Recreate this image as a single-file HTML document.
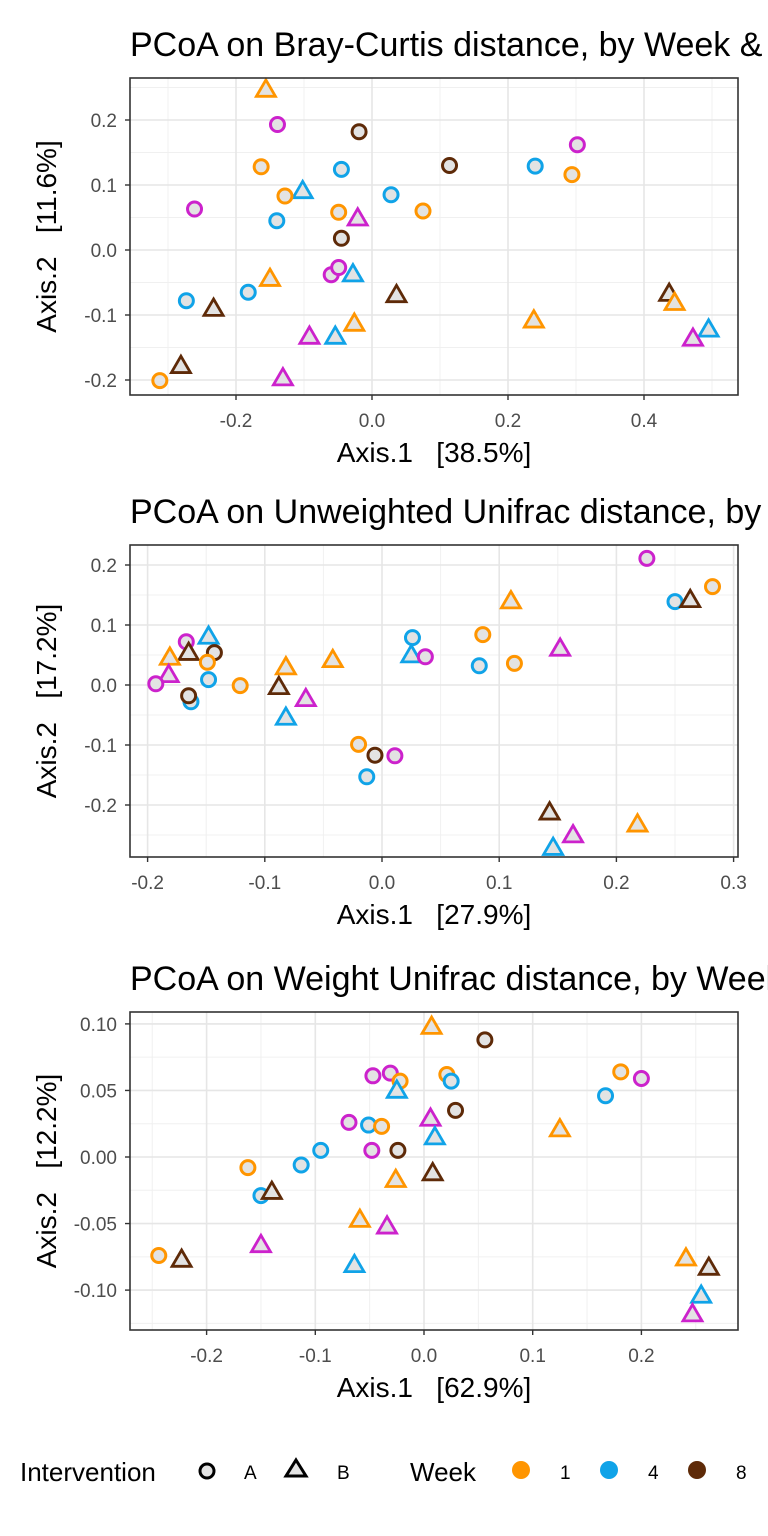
<!DOCTYPE html>
<html><head><meta charset="utf-8"><style>
html,body{margin:0;padding:0;background:#fff;}
svg{display:block;font-family:"Liberation Sans",Arial,sans-serif;}
text{white-space:pre;}
</style></head><body>
<svg id="chart" width="768" height="1536" viewBox="0 0 768 1536"></svg>
<script>
// Panel 1: Bray-Curtis
const p1Groups = ["B","A","A","A","A","A","A","A","A","B","A","A","A","A","A","B","A","A","B","A","A","B","B","A","A","B","B","B","B","B","B","B","B","B","B","B","A"];
const p1Weeks  = ["1","0","8","0","1","4","8","4","1","4","1","4","0","1","1","0","4","8","1","0","0","4","8","4","4","8","1","0","4","1","8","1","4","0","8","0","1"];
const p1X = [-0.156,-0.139,-0.019,0.302,-0.163,-0.045,0.114,0.240,0.294,-0.102,-0.128,0.028,-0.261,-0.049,0.075,-0.021,-0.140,-0.045,-0.150,-0.060,-0.049,-0.028,0.036,-0.182,-0.273,-0.233,-0.026,-0.092,-0.054,0.238,0.437,0.445,0.495,0.472,-0.281,-0.131,-0.312];
const p1Y = [0.247,0.193,0.182,0.162,0.128,0.124,0.130,0.129,0.116,0.091,0.083,0.085,0.063,0.058,0.060,0.049,0.045,0.018,-0.044,-0.038,-0.027,-0.037,-0.069,-0.065,-0.078,-0.090,-0.113,-0.133,-0.133,-0.108,-0.067,-0.081,-0.122,-0.136,-0.178,-0.197,-0.201];
// Panel 2: Unweighted Unifrac
const p2Groups = ["A","A","A","B","B","A","B","A","A","A","B","A","B","B","B","B","B","A","B","A","B","A","B","A","B","A","A","A","A","A","A","A","A","B","B","B","B"];
const p2Weeks  = ["0","1","4","8","1","1","0","4","1","4","4","0","1","1","8","0","4","1","4","0","8","8","1","1","0","0","4","4","8","1","8","0","4","8","0","4","1"];
const p2X = [0.226,0.282,0.250,0.263,0.110,0.086,0.152,0.083,0.113,0.026,0.025,0.037,-0.042,-0.082,-0.088,-0.065,-0.082,-0.121,-0.148,-0.167,-0.165,-0.143,-0.181,-0.149,-0.182,-0.193,-0.148,-0.163,-0.165,-0.020,-0.006,0.011,-0.013,0.143,0.163,0.146,0.218];
const p2Y = [0.211,0.164,0.139,0.142,0.140,0.084,0.061,0.032,0.036,0.079,0.050,0.047,0.042,0.030,-0.003,-0.023,-0.054,-0.001,0.081,0.072,0.054,0.054,0.046,0.038,0.017,0.002,0.009,-0.028,-0.018,-0.099,-0.117,-0.118,-0.153,-0.212,-0.250,-0.271,-0.232];
// Panel 3: Weighted Unifrac
const p3Groups = ["B","A","A","A","A","B","A","A","A","A","A","A","B","B","B","A","A","A","A","A","A","A","A","B","B","A","B","B","B","B","B","A","B","B","B","B","B"];
const p3Weeks  = ["1","8","0","0","1","4","1","4","1","0","4","8","0","4","1","0","4","1","4","0","8","4","1","8","1","4","8","1","0","0","4","1","8","1","8","4","0"];
const p3X = [0.007,0.056,-0.047,-0.031,-0.022,-0.025,0.021,0.025,0.181,0.200,0.167,0.029,0.006,0.010,0.125,-0.069,-0.051,-0.039,-0.095,-0.048,-0.024,-0.113,-0.162,0.008,-0.026,-0.150,-0.140,-0.059,-0.034,-0.150,-0.064,-0.244,-0.223,0.241,0.262,0.255,0.247];
const p3Y = [0.098,0.088,0.061,0.063,0.057,0.050,0.062,0.057,0.064,0.059,0.046,0.035,0.029,0.015,0.021,0.026,0.024,0.023,0.005,0.005,0.005,-0.006,-0.008,-0.012,-0.017,-0.029,-0.026,-0.047,-0.052,-0.066,-0.081,-0.074,-0.077,-0.076,-0.083,-0.104,-0.118];

const p1XTicks = [-0.2,0.0,0.2,0.4], p1XLabels = ["-0.2","0.0","0.2","0.4"];
const p1YTicks = [-0.2,-0.1,0.0,0.1,0.2], p1YLabels = ["-0.2","-0.1","0.0","0.1","0.2"];
const p2XTicks = [-0.2,-0.1,0.0,0.1,0.2,0.3], p2XLabels = ["-0.2","-0.1","0.0","0.1","0.2","0.3"];
const p2YTicks = [-0.2,-0.1,0.0,0.1,0.2], p2YLabels = ["-0.2","-0.1","0.0","0.1","0.2"];
const p3XTicks = [-0.2,-0.1,0.0,0.1,0.2], p3XLabels = ["-0.2","-0.1","0.0","0.1","0.2"];
const p3YTicks = [-0.10,-0.05,0.00,0.05,0.10], p3YLabels = ["-0.10","-0.05","0.00","0.05","0.10"];

const weekColors = {"0":"#CC22CC","1":"#FF9500","4":"#10A3E8","8":"#5E2A08"};
const NS = "http://www.w3.org/2000/svg";
const svg = document.getElementById('chart');
function mk(tag, attrs, parent){const e=document.createElementNS(NS,tag);for(const k in attrs)e.setAttribute(k,attrs[k]);(parent||svg).appendChild(e);return e;}

function panel(cfg){
  const g = mk('g',{});
  
  
  const L=130,R=738,T=cfg.top,B=cfg.bottom;
  const sx = v => cfg.x0 + v*cfg.kx;
  const sy = v => cfg.y0 - v*cfg.ky;
  const t = mk('text',{x:130,y:T-22,'font-size':34,fill:'#000'},g);
  t.textContent = cfg.title;
  
  
  mk('rect',{x:L,y:T,width:R-L,height:B-T,fill:'#fff'},g);
  for(let v=-1;v<=1.0001;v+=cfg.minorX){const px=sx(v);if(px>L&&px<R)mk('line',{x1:px,x2:px,y1:T,y2:B,stroke:'#f0f0f0','stroke-width':1},g);}
  for(let v=-1;v<=1.0001;v+=cfg.minorY){const py=sy(v);if(py>T&&py<B)mk('line',{x1:L,x2:R,y1:py,y2:py,stroke:'#f0f0f0','stroke-width':1},g);}
  cfg.xt.forEach((v,i)=>{const px=sx(v);
    mk('line',{x1:px,x2:px,y1:T,y2:B,stroke:'#e6e6e6','stroke-width':1.6},g);
    mk('line',{x1:px,x2:px,y1:B,y2:B+5,stroke:'#333','stroke-width':1.4},g);
    const tx=mk('text',{x:px,y:B+32,'font-size':19,fill:'#4d4d4d','text-anchor':'middle'},g);tx.textContent=cfg.xl[i];
    
    });
  cfg.yt.forEach((v,i)=>{const py=sy(v);
    mk('line',{x1:L,x2:R,y1:py,y2:py,stroke:'#e6e6e6','stroke-width':1.6},g);
    mk('line',{x1:L-5,x2:L,y1:py,y2:py,stroke:'#333','stroke-width':1.4},g);
    const tx=mk('text',{x:L-13,y:py+7,'font-size':19,fill:'#4d4d4d','text-anchor':'end'},g);tx.textContent=cfg.yl[i];
    
    });
  cfg.X.forEach((v,i)=>{
    const px=sx(v), py=sy(cfg.Y[i]), c=weekColors[cfg.W[i]];
    let m;
    if(cfg.G[i]==='A'){ m=mk('circle',{cx:px,cy:py,r:7,fill:'#e3e3e3',stroke:c,'stroke-width':3},g); }
    else { const s=9.5; m=mk('polygon',{points:`${px},${py-s} ${px+s},${py+s*0.72} ${px-s},${py+s*0.72}`,fill:'#e3e3e3',stroke:c,'stroke-width':2.8},g); }
    
    
  });
  mk('rect',{x:L,y:T,width:R-L,height:B-T,fill:'none',stroke:'#333','stroke-width':1.6},g);
  const xl=mk('text',{x:(L+R)/2,y:B+67,'font-size':28,fill:'#000','text-anchor':'middle'},g);
  xl.textContent=cfg.xlab;
  
  
  const yc=(T+B)/2;
  const yl=mk('text',{x:0,y:0,'font-size':28,fill:'#000','text-anchor':'middle',transform:`translate(56,${yc}) rotate(-90)`},g);
  yl.textContent=cfg.ylab;
  
  
}

panel({name:'bray-curtis-panel',title:'PCoA on Bray-Curtis distance, by Week & Intervention',top:78,bottom:395,x0:372,kx:680,y0:250,ky:650,minorX:0.1,minorY:0.05,
  xt:p1XTicks,xl:p1XLabels,yt:p1YTicks,yl:p1YLabels,X:p1X,Y:p1Y,G:p1Groups,W:p1Weeks,xlab:'Axis.1   [38.5%]',ylab:'Axis.2   [11.6%]'});
panel({name:'unweighted-unifrac-panel',title:'PCoA on Unweighted Unifrac distance, by Week & Intervention',top:545,bottom:857,x0:382,kx:1172,y0:685,ky:600,minorX:0.05,minorY:0.05,
  xt:p2XTicks,xl:p2XLabels,yt:p2YTicks,yl:p2YLabels,X:p2X,Y:p2Y,G:p2Groups,W:p2Weeks,xlab:'Axis.1   [27.9%]',ylab:'Axis.2   [17.2%]'});
panel({name:'weighted-unifrac-panel',title:'PCoA on Weight Unifrac distance, by Week & Intervention',top:1012,bottom:1330,x0:424,kx:1087,y0:1157,ky:1331,minorX:0.05,minorY:0.025,
  xt:p3XTicks,xl:p3XLabels,yt:p3YTicks,yl:p3YLabels,X:p3X,Y:p3Y,G:p3Groups,W:p3Weeks,xlab:'Axis.1   [62.9%]',ylab:'Axis.2   [12.2%]'});
</script>
<svg width="768" height="60" style="position:absolute;left:0;top:1440px">
  <text x="20" y="41" font-size="26">Intervention</text>
  <circle cx="207" cy="31" r="7" fill="#e3e3e3" stroke="#000" stroke-width="3"/>
  <text x="244" y="39" font-size="19">A</text>
  <polygon points="296,20 306,36 286,36" fill="#e3e3e3" stroke="#000" stroke-width="3"/>
  <text x="337" y="39" font-size="19">B</text>
  <text x="410" y="41" font-size="26">Week</text>
  <circle cx="521" cy="30" r="9" fill="#FF9500"/>
  <text x="560" y="39" font-size="19">1</text>
  <circle cx="609" cy="30" r="9" fill="#10A3E8"/>
  <text x="648" y="39" font-size="19">4</text>
  <circle cx="697" cy="30" r="9" fill="#5E2A08"/>
  <text x="736" y="39" font-size="19">8</text>
</svg>
</body></html>
